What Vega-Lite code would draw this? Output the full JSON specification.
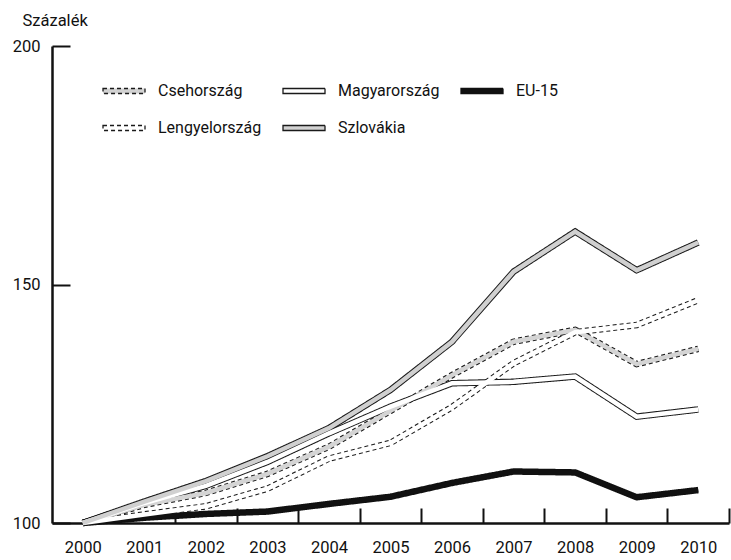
{
  "$schema": "https://vega.github.io/schema/vega-lite/v6.json",
  "width": 677,
  "height": 477,
  "autosize": "none",
  "padding": {"left": 52, "top": 46, "right": 2, "bottom": 37},
  "background": "white",
  "data": {
    "values": [
      {"country": "Csehország", "year": 2000, "value": 100},
      {"country": "Csehország", "year": 2001, "value": 103.8},
      {"country": "Csehország", "year": 2002, "value": 106.3},
      {"country": "Csehország", "year": 2003, "value": 110.3},
      {"country": "Csehország", "year": 2004, "value": 116},
      {"country": "Csehország", "year": 2005, "value": 123.5},
      {"country": "Csehország", "year": 2006, "value": 131},
      {"country": "Csehország", "year": 2007, "value": 138},
      {"country": "Csehország", "year": 2008, "value": 140.5},
      {"country": "Csehország", "year": 2009, "value": 133.3},
      {"country": "Csehország", "year": 2010, "value": 136.5},
      {"country": "Magyarország", "year": 2000, "value": 100},
      {"country": "Magyarország", "year": 2001, "value": 104.2},
      {"country": "Magyarország", "year": 2002, "value": 107.8},
      {"country": "Magyarország", "year": 2003, "value": 112.8},
      {"country": "Magyarország", "year": 2004, "value": 118.8},
      {"country": "Magyarország", "year": 2005, "value": 124.4},
      {"country": "Magyarország", "year": 2006, "value": 129.3},
      {"country": "Magyarország", "year": 2007, "value": 129.6},
      {"country": "Magyarország", "year": 2008, "value": 130.7},
      {"country": "Magyarország", "year": 2009, "value": 122.3},
      {"country": "Magyarország", "year": 2010, "value": 123.8},
      {"country": "EU-15", "year": 2000, "value": 100},
      {"country": "EU-15", "year": 2001, "value": 101.1},
      {"country": "EU-15", "year": 2002, "value": 101.9},
      {"country": "EU-15", "year": 2003, "value": 102.4},
      {"country": "EU-15", "year": 2004, "value": 104},
      {"country": "EU-15", "year": 2005, "value": 105.5},
      {"country": "EU-15", "year": 2006, "value": 108.4},
      {"country": "EU-15", "year": 2007, "value": 110.8},
      {"country": "EU-15", "year": 2008, "value": 110.6},
      {"country": "EU-15", "year": 2009, "value": 105.4},
      {"country": "EU-15", "year": 2010, "value": 106.9},
      {"country": "Lengyelország", "year": 2000, "value": 100},
      {"country": "Lengyelország", "year": 2001, "value": 101.8},
      {"country": "Lengyelország", "year": 2002, "value": 103.5},
      {"country": "Lengyelország", "year": 2003, "value": 107.2},
      {"country": "Lengyelország", "year": 2004, "value": 113.5},
      {"country": "Lengyelország", "year": 2005, "value": 116.8},
      {"country": "Lengyelország", "year": 2006, "value": 124.3},
      {"country": "Lengyelország", "year": 2007, "value": 133.5},
      {"country": "Lengyelország", "year": 2008, "value": 140},
      {"country": "Lengyelország", "year": 2009, "value": 141.5},
      {"country": "Lengyelország", "year": 2010, "value": 146.7},
      {"country": "Szlovákia", "year": 2000, "value": 100},
      {"country": "Szlovákia", "year": 2001, "value": 104.5},
      {"country": "Szlovákia", "year": 2002, "value": 108.8},
      {"country": "Szlovákia", "year": 2003, "value": 114},
      {"country": "Szlovákia", "year": 2004, "value": 119.9},
      {"country": "Szlovákia", "year": 2005, "value": 127.9},
      {"country": "Szlovákia", "year": 2006, "value": 138},
      {"country": "Szlovákia", "year": 2007, "value": 152.7},
      {"country": "Szlovákia", "year": 2008, "value": 161.1},
      {"country": "Szlovákia", "year": 2009, "value": 153},
      {"country": "Szlovákia", "year": 2010, "value": 158.8}
    ]
  },
  "encoding": {
    "x": {
      "field": "year", "type": "quantitative",
      "scale": {"domain": [1999.5, 2010.5], "nice": false, "zero": false},
      "axis": {
        "title": null,
        "values": [2000, 2001, 2002, 2003, 2004, 2005, 2006, 2007, 2008, 2009, 2010],
        "format": "d",
        "tickOffset": 30.77,
        "labelOffset": -30.77,
        "tickSize": -15,
        "labelPadding": 31,
        "tickOpacity": {"condition": {"test": "datum.value == 2000", "value": 0}, "value": 1}
      }
    },
    "y": {
      "field": "value", "type": "quantitative",
      "scale": {"domain": [100, 200], "nice": false, "zero": false},
      "axis": {
        "title": "Százalék",
        "titleAngle": 0,
        "titleAlign": "left",
        "titleBaseline": "middle",
        "titleX": -30,
        "titleY": -26,
        "titleFontWeight": "normal",
        "titleFontSize": 16.5,
        "titleFont": "Roboto",
        "titleColor": "#111",
        "values": [100, 150, 200],
        "tickSize": -18,
        "labelPadding": 30
      }
    }
  },
  "layer": [
    {
      "mark": {"type": "line", "strokeJoin": "miter", "strokeCap": "butt", "strokeWidth": 6.5},
      "encoding": {
        "stroke": {
          "field": "country", "type": "nominal",
          "scale": {"domain": ["Csehország", "Magyarország", "EU-15", "Lengyelország", "Szlovákia"],
                    "range": ["#1a1a1a", "#1a1a1a", "#111111", "#1a1a1a", "#1a1a1a"]},
          "legend": {
            "title": null,
            "encode": {
              "symbols": {
                "update": {
                  "fill": {"signal": "datum.value == 'Csehország' || datum.value == 'Szlovákia' ? '#d2d2d2' : datum.value == 'EU-15' ? '#111111' : '#ffffff'"},
                  "fillOpacity": {"value": 1},
                  "strokeWidth": {"value": 1.3}
                }
              }
            }
          }
        },
        "strokeDash": {
          "field": "country", "type": "nominal",
          "scale": {"domain": ["Csehország", "Magyarország", "EU-15", "Lengyelország", "Szlovákia"],
                    "range": [[4, 3], [1, 0], [1, 0], [4, 3], [1, 0]]},
          "legend": {"title": null}
        }
      }
    },
    {
      "mark": {"type": "line", "strokeJoin": "miter", "strokeCap": "butt", "strokeWidth": 4.5},
      "encoding": {
        "stroke": {
          "field": "country", "type": "nominal",
          "scale": {"domain": ["Csehország", "Magyarország", "EU-15", "Lengyelország", "Szlovákia"],
                    "range": ["#d4d4d4", "#ffffff", "#111111", "#ffffff", "#d0d0d0"]},
          "legend": null
        }
      }
    }
  ],
  "resolve": {
    "scale": {"stroke": "independent", "strokeDash": "independent"}
  },
  "config": {
    "view": {"stroke": null},
    "font": "Roboto",
    "axis": {
      "grid": false,
      "domainColor": "#111",
      "domainWidth": 2.5,
      "tickColor": "#111",
      "tickWidth": 2,
      "labelFont": "Roboto",
      "labelFontSize": 16.5,
      "labelColor": "#111"
    },
    "legend": {
      "orient": "none",
      "legendX": 50,
      "legendY": 23,
      "direction": "horizontal",
      "columns": 3,
      "symbolType": "M-1,-0.12L1,-0.12L1,0.12L-1,0.12Z",
      "symbolSize": 1764,
      "symbolStrokeWidth": 1.3,
      "labelFont": "Roboto",
      "labelFontSize": 16,
      "labelColor": "#111",
      "labelOffset": 12,
      "columnPadding": 18,
      "rowPadding": 7,
      "labelLimit": 300
    }
  }
}
